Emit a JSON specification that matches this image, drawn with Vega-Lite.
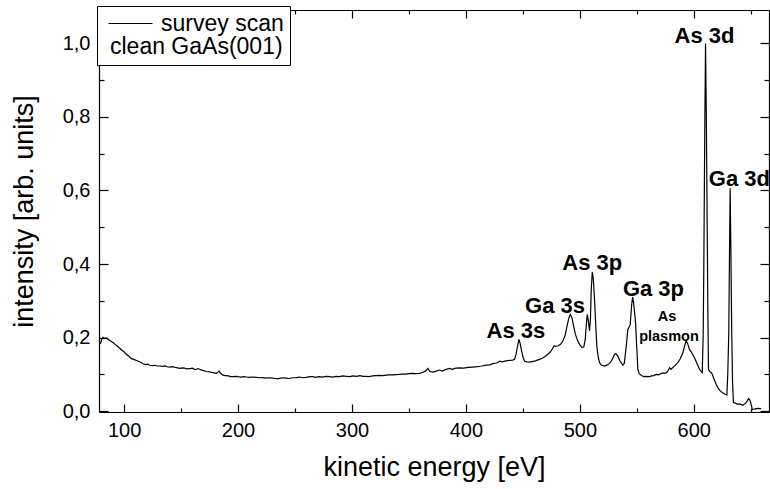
{
  "$schema": "https://vega.github.io/schema/vega-lite/v6.json",
  "width": 670,
  "height": 402,
  "autosize": {"type": "none"},
  "padding": {"left": 99, "top": 10, "right": 1, "bottom": 77},
  "background": "white",
  "config": {
    "view": {"stroke": null},
    "font": "Liberation Sans",
    "axis": {
      "domainColor": "black",
      "domainWidth": 1.2,
      "tickColor": "black",
      "tickWidth": 1.2,
      "grid": false,
      "labelColor": "black",
      "labelFont": "Liberation Sans",
      "labelFontSize": 20,
      "titleColor": "black",
      "titleFont": "Liberation Sans",
      "titleFontSize": 27,
      "titleFontWeight": "normal"
    }
  },
  "data": {
    "values": [
      {"e":79.3,"i":0.183},{"e":80.5,"i":0.196},{"e":81.6,"i":0.201},{"e":83,"i":0.198},{"e":84.6,"i":0.199},{"e":86.5,"i":0.194},{"e":88.5,"i":0.19},{"e":90.4,"i":0.186},{"e":92.5,"i":0.181},{"e":94.5,"i":0.176},{"e":96.2,"i":0.171},{"e":98,"i":0.166},{"e":99.5,"i":0.163},{"e":101,"i":0.158},{"e":102.1,"i":0.155},{"e":104,"i":0.15},{"e":106.5,"i":0.143},{"e":108.5,"i":0.141},{"e":110.9,"i":0.138},{"e":113,"i":0.135},{"e":114.5,"i":0.133},{"e":116.7,"i":0.129},{"e":119,"i":0.127},{"e":120.5,"i":0.128},{"e":122.5,"i":0.125},{"e":125,"i":0.124},{"e":127,"i":0.125},{"e":129,"i":0.123},{"e":131.3,"i":0.123},{"e":133.5,"i":0.122},{"e":136,"i":0.123},{"e":138,"i":0.121},{"e":140.1,"i":0.12},{"e":142.5,"i":0.121},{"e":145,"i":0.119},{"e":147,"i":0.118},{"e":148.9,"i":0.1165},{"e":151,"i":0.118},{"e":153,"i":0.117},{"e":155,"i":0.115},{"e":157.6,"i":0.116},{"e":160,"i":0.117},{"e":161.5,"i":0.114},{"e":163.5,"i":0.114},{"e":165,"i":0.116},{"e":167,"i":0.113},{"e":169,"i":0.111},{"e":172.3,"i":0.108},{"e":175,"i":0.107},{"e":178,"i":0.105},{"e":181,"i":0.103},{"e":183.3,"i":0.109},{"e":184.5,"i":0.104},{"e":186.8,"i":0.098},{"e":189,"i":0.097},{"e":191.5,"i":0.096},{"e":193.5,"i":0.094},{"e":195.6,"i":0.094},{"e":198,"i":0.095},{"e":200,"i":0.094},{"e":203,"i":0.093},{"e":205,"i":0.094},{"e":207.4,"i":0.093},{"e":210,"i":0.092},{"e":213,"i":0.093},{"e":216,"i":0.092},{"e":219,"i":0.091},{"e":221.9,"i":0.0913},{"e":224,"i":0.09},{"e":227,"i":0.091},{"e":230,"i":0.09},{"e":233,"i":0.089},{"e":235,"i":0.088},{"e":236.6,"i":0.0894},{"e":239,"i":0.091},{"e":242,"i":0.09},{"e":245,"i":0.089},{"e":248,"i":0.091},{"e":251.2,"i":0.0913},{"e":254,"i":0.093},{"e":257,"i":0.091},{"e":260,"i":0.092},{"e":263,"i":0.094},{"e":265.8,"i":0.094},{"e":268,"i":0.092},{"e":271,"i":0.094},{"e":274,"i":0.093},{"e":277,"i":0.095},{"e":280.4,"i":0.094},{"e":283,"i":0.093},{"e":286,"i":0.095},{"e":289,"i":0.094},{"e":292,"i":0.096},{"e":295.1,"i":0.0949},{"e":298,"i":0.094},{"e":301,"i":0.096},{"e":304,"i":0.095},{"e":307,"i":0.097},{"e":309.6,"i":0.0949},{"e":312,"i":0.095},{"e":315,"i":0.094},{"e":318,"i":0.096},{"e":321,"i":0.097},{"e":324.3,"i":0.0976},{"e":327,"i":0.097},{"e":330,"i":0.098},{"e":333,"i":0.099},{"e":336,"i":0.099},{"e":338.9,"i":0.0995},{"e":341,"i":0.1},{"e":344,"i":0.101},{"e":347,"i":0.101},{"e":350,"i":0.102},{"e":353.5,"i":0.103},{"e":356,"i":0.102},{"e":359.4,"i":0.103},{"e":362.3,"i":0.106},{"e":364.5,"i":0.109},{"e":366.7,"i":0.116},{"e":368.5,"i":0.108},{"e":371.1,"i":0.1065},{"e":374,"i":0.109},{"e":376.9,"i":0.112},{"e":379,"i":0.109},{"e":382,"i":0.113},{"e":385.7,"i":0.1165},{"e":388,"i":0.114},{"e":391,"i":0.117},{"e":394.5,"i":0.118},{"e":398,"i":0.117},{"e":402,"i":0.119},{"e":406.1,"i":0.12},{"e":410,"i":0.121},{"e":414,"i":0.123},{"e":417.9,"i":0.1255},{"e":421,"i":0.126},{"e":424,"i":0.13},{"e":427,"i":0.131},{"e":429.6,"i":0.136},{"e":432,"i":0.134},{"e":435,"i":0.137},{"e":438.3,"i":0.138},{"e":441,"i":0.139},{"e":442.7,"i":0.141},{"e":444,"i":0.155},{"e":445.5,"i":0.18},{"e":446.5,"i":0.195},{"e":447.5,"i":0.185},{"e":448.6,"i":0.168},{"e":450,"i":0.148},{"e":451.5,"i":0.136},{"e":453.5,"i":0.134},{"e":455.9,"i":0.1336},{"e":458,"i":0.135},{"e":461,"i":0.137},{"e":464.6,"i":0.141},{"e":467,"i":0.144},{"e":470,"i":0.15},{"e":473.4,"i":0.159},{"e":475,"i":0.165},{"e":477.5,"i":0.178},{"e":479,"i":0.176},{"e":481,"i":0.178},{"e":483,"i":0.182},{"e":485,"i":0.19},{"e":487,"i":0.205},{"e":489,"i":0.235},{"e":490.5,"i":0.255},{"e":491.6,"i":0.263},{"e":493,"i":0.255},{"e":494.5,"i":0.232},{"e":496,"i":0.21},{"e":498,"i":0.192},{"e":500,"i":0.18},{"e":502,"i":0.173},{"e":503.5,"i":0.175},{"e":504.7,"i":0.195},{"e":505.8,"i":0.24},{"e":506.5,"i":0.263},{"e":507.5,"i":0.245},{"e":508.5,"i":0.218},{"e":509.3,"i":0.25},{"e":510,"i":0.33},{"e":510.9,"i":0.378},{"e":511.8,"i":0.36},{"e":512.9,"i":0.303},{"e":514,"i":0.23},{"e":514.9,"i":0.177},{"e":516,"i":0.15},{"e":517.3,"i":0.132},{"e":519,"i":0.125},{"e":521.7,"i":0.1228},{"e":524,"i":0.126},{"e":526,"i":0.13},{"e":528,"i":0.138},{"e":530.4,"i":0.1545},{"e":531.5,"i":0.157},{"e":533.3,"i":0.15},{"e":535,"i":0.138},{"e":537.7,"i":0.125},{"e":539,"i":0.13},{"e":540.5,"i":0.17},{"e":542.1,"i":0.222},{"e":543.2,"i":0.228},{"e":544.2,"i":0.236},{"e":545.5,"i":0.29},{"e":546.3,"i":0.31},{"e":547.2,"i":0.295},{"e":548.9,"i":0.24},{"e":550,"i":0.17},{"e":550.9,"i":0.114},{"e":552,"i":0.103},{"e":553.9,"i":0.0976},{"e":556,"i":0.094},{"e":558,"i":0.095},{"e":561.1,"i":0.094},{"e":563,"i":0.096},{"e":565,"i":0.097},{"e":567,"i":0.1},{"e":569,"i":0.099},{"e":571,"i":0.102},{"e":573,"i":0.104},{"e":575,"i":0.103},{"e":577,"i":0.108},{"e":578.7,"i":0.118},{"e":580,"i":0.114},{"e":582,"i":0.12},{"e":584,"i":0.126},{"e":586,"i":0.132},{"e":588,"i":0.142},{"e":590.4,"i":0.159},{"e":592,"i":0.178},{"e":593.3,"i":0.1905},{"e":594.5,"i":0.185},{"e":596.2,"i":0.168},{"e":598,"i":0.16},{"e":600.6,"i":0.1455},{"e":602.5,"i":0.132},{"e":605,"i":0.114},{"e":607.4,"i":0.105},{"e":608.2,"i":0.2},{"e":608.8,"i":0.394},{"e":609.6,"i":0.75},{"e":610.3,"i":0.999},{"e":611,"i":0.8},{"e":611.8,"i":0.484},{"e":612.4,"i":0.25},{"e":612.9,"i":0.114},{"e":614,"i":0.108},{"e":615.3,"i":0.105},{"e":616.3,"i":0.1},{"e":617.3,"i":0.091},{"e":619,"i":0.078},{"e":621,"i":0.064},{"e":623,"i":0.056},{"e":625.4,"i":0.05},{"e":627.5,"i":0.046},{"e":629,"i":0.044},{"e":629.8,"i":0.1},{"e":630.7,"i":0.213},{"e":631.4,"i":0.45},{"e":631.9,"i":0.606},{"e":632.5,"i":0.45},{"e":633.3,"i":0.213},{"e":634,"i":0.08},{"e":634.8,"i":0.0235},{"e":636.5,"i":0.022},{"e":638.6,"i":0.019},{"e":640.5,"i":0.02},{"e":643,"i":0.0163},{"e":644.5,"i":0.02},{"e":646,"i":0.0235},{"e":648.2,"i":0.0344},{"e":649.3,"i":0.03},{"e":650.3,"i":0.019},{"e":651.5,"i":0.004},{"e":653.2,"i":0.006},{"e":656,"i":0.008},{"e":659.1,"i":0.0073}
    ]
  },
  "resolve": {"axis": {"x": "independent", "y": "independent"}},
  "layer": [
    {
      "mark": {"type": "line", "strokeWidth": 1.2, "clip": false},
      "encoding": {
        "x": {
          "field": "e", "type": "quantitative",
          "scale": {"domain": [78, 666], "nice": false, "zero": false},
          "axis": {
            "orient": "bottom",
            "title": "kinetic energy [eV]",
            "values": [100,150,200,250,300,350,400,450,500,550,600,650],
            "format": "d",
            "labelExpr": "datum.value % 100 === 0 ? datum.label : ''",
            "tickSize": {"condition": {"test": "datum.value % 100 === 0", "value": -8}, "value": -4},
            "labelPadding": 16,
            "titlePadding": 14
          }
        },
        "y": {
          "field": "i", "type": "quantitative",
          "scale": {"domain": [-0.002, 1.09], "nice": false, "zero": false},
          "axis": {
            "orient": "left",
            "title": "intensity [arb. units]",
            "values": [0,0.1,0.2,0.3,0.4,0.5,0.6,0.7,0.8,0.9,1.0],
            "labelExpr": "round(datum.value*10) % 2 === 0 ? replace(format(datum.value, '.1f'), '.', ',') : ''",
            "tickSize": {"condition": {"test": "round(datum.value*10) % 2 === 0", "value": -9}, "value": -5},
            "labelPadding": 18,
            "titlePadding": 24
          }
        },
        "stroke": {
          "datum": "survey scan",
          "scale": {"range": ["black"]},
          "legend": {
            "orient": "none",
            "legendX": -2,
            "legendY": -4,
            "title": "clean GaAs(001)",
            "titleOrient": "bottom",
            "titleFont": "Liberation Sans",
            "titleFontSize": 23,
            "titleFontWeight": "normal",
            "titleColor": "black",
            "titlePadding": 0,
            "labelFont": "Liberation Sans",
            "labelFontSize": 23,
            "labelColor": "black",
            "symbolType": "M-4,0H4",
            "symbolSize": 121,
            "symbolStrokeWidth": 1.2,
            "symbolStrokeColor": "black",
            "symbolOffset": 16,
            "labelOffset": 19,
            "strokeColor": "black",
            "fillColor": "white",
            "padding": 6,
            "encode": {"title": {"update": {"dx": {"value": 7}}}}
          }
        }
      }
    },
    {
      "mark": {"type": "line", "strokeOpacity": 0},
      "encoding": {
        "x": {
          "field": "e", "type": "quantitative",
          "axis": {
            "orient": "top", "title": null, "labels": false,
            "values": [100,150,200,250,300,350,400,450,500,550,600,650],
            "tickSize": {"condition": {"test": "datum.value % 100 === 0", "value": -8}, "value": -4}
          }
        },
        "y": {
          "field": "i", "type": "quantitative",
          "axis": {
            "orient": "right", "title": null, "labels": false,
            "values": [0,0.1,0.2,0.3,0.4,0.5,0.6,0.7,0.8,0.9,1.0],
            "tickSize": {"condition": {"test": "round(datum.value*10) % 2 === 0", "value": -9}, "value": -5}
          }
        }
      }
    },
    {
      "data": {
        "values": [
          {"label": "As 3d", "e": 609.4, "i": 1.0},
          {"label": "Ga 3d", "e": 640, "i": 0.611},
          {"label": "As 3p", "e": 510.9, "i": 0.383},
          {"label": "Ga 3s", "e": 478.2, "i": 0.2656},
          {"label": "As 3s", "e": 443.9, "i": 0.1997},
          {"label": "Ga 3p", "e": 564.6, "i": 0.3125}
        ]
      },
      "mark": {"type": "text", "font": "Liberation Sans", "fontSize": 22, "fontWeight": "bold", "align": "center", "baseline": "alphabetic", "color": "black", "clip": false},
      "encoding": {
        "x": {"field": "e", "type": "quantitative", "axis": null},
        "y": {"field": "i", "type": "quantitative", "axis": null},
        "text": {"field": "label"}
      }
    },
    {
      "data": {
        "values": [
          {"label": "As", "e": 576.5, "i": 0.2447},
          {"label": "plasmon", "e": 578.2, "i": 0.1905}
        ]
      },
      "mark": {"type": "text", "font": "Liberation Sans", "fontSize": 14.5, "fontWeight": "bold", "align": "center", "baseline": "alphabetic", "color": "black"},
      "encoding": {
        "x": {"field": "e", "type": "quantitative", "axis": null},
        "y": {"field": "i", "type": "quantitative", "axis": null},
        "text": {"field": "label"}
      }
    }
  ]
}
